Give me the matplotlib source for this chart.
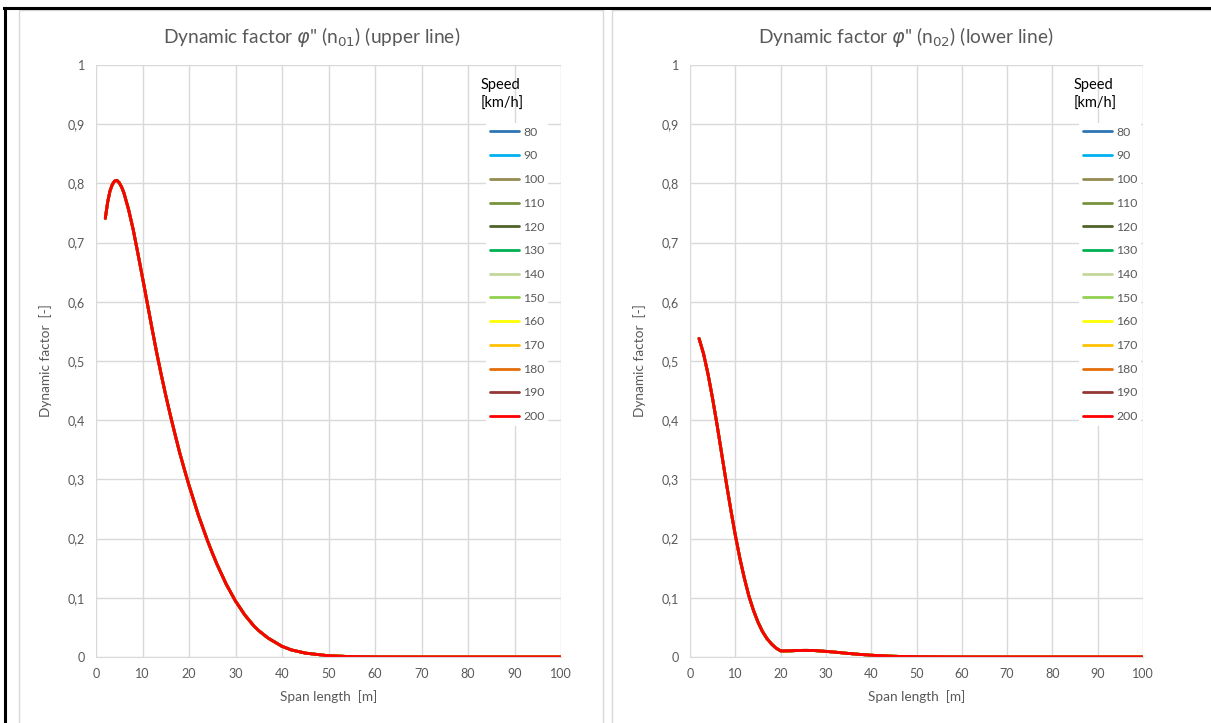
import matplotlib
matplotlib.use("Agg")
import matplotlib.pyplot as plt
from matplotlib.lines import Line2D
from matplotlib.patches import Rectangle
from matplotlib.ticker import FuncFormatter

plt.rcParams['font.family'] = ['Lato', 'DejaVu Sans']
plt.rcParams['mathtext.fontset'] = 'dejavusans'

# ---- data ----
speeds = [80, 90, 100, 110, 120, 130, 140, 150, 160, 170, 180, 190, 200]
speed_colors = ['#2E75B6', '#00B0F0', '#948A54', '#77933C', '#4F6228', '#00B050',
                '#C4D79B', '#92D050', '#FFFF00', '#FFC000', '#E46C0A', '#953735', '#FF0000']

span_upper = [2, 2.5, 3, 3.5, 4, 4.5, 5, 5.5, 6, 7, 8, 9, 10, 11, 12, 13, 14, 15, 16, 17,
              18, 19, 20, 22, 24, 25, 26, 28, 30, 32, 34, 35, 37, 40, 42, 45, 50, 55, 60,
              70, 80, 90, 100]
phi_upper = [0.741, 0.768, 0.787, 0.798, 0.804, 0.805, 0.801, 0.794, 0.784, 0.756, 0.722,
             0.682, 0.641, 0.599, 0.557, 0.516, 0.478, 0.442, 0.408, 0.376, 0.345, 0.317,
             0.290, 0.240, 0.196, 0.176, 0.157, 0.123, 0.0945, 0.071, 0.052, 0.0445,
             0.032, 0.018, 0.012, 0.0066, 0.0021, 0.0006, 0.00014, 0.0, 0.0, 0.0, 0.0]

span_lower = [2, 3, 4, 5, 6, 7, 8, 9, 10, 11, 12, 13, 14, 15, 16, 17, 18, 19, 20, 21, 22,
              23, 24, 25, 26, 27, 28, 30, 32, 34, 35, 37, 40, 42, 45, 50, 60, 70, 80, 90, 100]
phi_lower = [0.538, 0.512, 0.477, 0.436, 0.391, 0.343, 0.295, 0.249, 0.206, 0.167, 0.133,
             0.103, 0.079, 0.059, 0.043, 0.031, 0.022, 0.015, 0.0103, 0.0103, 0.0104,
             0.0107, 0.0110, 0.0112, 0.0112, 0.0110, 0.0106, 0.0095, 0.0082, 0.0067,
             0.0060, 0.0047, 0.0030, 0.0022, 0.0012, 0.0004, 0.00004, 0.0, 0.0, 0.0, 0.0]

x_ticks = [0, 10, 20, 30, 40, 50, 60, 70, 80, 90, 100]
y_ticks = [0, 0.1, 0.2, 0.3, 0.4, 0.5, 0.6, 0.7, 0.8, 0.9, 1.0]
titles = ['Dynamic factor $\\varphi$" (n$_{01}$) (upper line)',
          'Dynamic factor $\\varphi$" (n$_{02}$) (lower line)']

W, H = 1211, 723
fig = plt.figure(figsize=(W / 100, H / 100), dpi=100)
fig.patch.set_facecolor('white')

def fx(px):
    return px / W

def fy(py):
    return 1 - py / H

# chart area borders (light grey)
fig.add_artist(Rectangle((fx(19), fy(730)), fx(603) - fx(19), fy(10) - fy(730),
                         transform=fig.transFigure, fill=False, edgecolor='#D9D9D9', lw=1))
fig.add_artist(Rectangle((fx(612), fy(730)), fx(1220) - fx(612), fy(10) - fy(730),
                         transform=fig.transFigure, fill=False, edgecolor='#D9D9D9', lw=1))
# black outer frame
fig.add_artist(Line2D([fx(4), fx(1211)], [fy(8), fy(8)], transform=fig.transFigure,
                      color='black', lw=2.2))
fig.add_artist(Line2D([fx(5), fx(5)], [fy(8), fy(723)], transform=fig.transFigure,
                      color='black', lw=2.2))

grey = '#595959'
fmt = FuncFormatter(lambda v, p: ('%g' % round(v, 1)).replace('.', ','))

panels = [
    (96, 561, span_upper, phi_upper, titles[0], 486, 312),
    (690, 1143, span_lower, phi_lower, titles[1], 1079, 906),
]

for x0, x1, xs, ys, title, lx, tx in panels:
    ax = fig.add_axes([fx(x0), fy(657), fx(x1) - fx(x0), fy(65) - fy(657)])
    ax.set_xlim(0, 100)
    ax.set_ylim(0, 1)
    ax.set_xticks(x_ticks)
    ax.set_yticks(y_ticks)
    ax.yaxis.set_major_formatter(fmt)
    ax.grid(True, color='#D9D9D9', lw=1)
    ax.set_axisbelow(True)
    for s in ['top', 'right', 'left']:
        ax.spines[s].set_visible(False)
    ax.spines['bottom'].set_color('#D9D9D9')
    ax.tick_params(length=0, colors=grey, labelsize=9, pad=8)
    handles = []
    for sp, col in zip(speeds, speed_colors):
        h, = ax.plot(xs, ys, color=col, lw=2.0, label=str(sp), solid_capstyle='round')
        handles.append(h)
    ax.set_xlabel('Span length  [m]', color=grey, fontsize=9.8, labelpad=7)
    ax.set_ylabel('Dynamic factor  [-]', color=grey, fontsize=9.8, labelpad=11)
    fig.text(fx(tx), fy(37), title, color=grey, fontsize=13.8, ha='center', va='center')
    leg = ax.legend(handles=handles, loc='upper left',
                    bbox_to_anchor=(fx(lx), fy(123)), bbox_transform=fig.transFigure,
                    frameon=True, fancybox=False, borderaxespad=0, borderpad=0.3,
                    fontsize=8.8, handlelength=2.4, handletextpad=0.35, labelspacing=1.04)
    leg.get_frame().set_facecolor('white')
    leg.get_frame().set_edgecolor('none')
    leg.get_frame().set_alpha(1)
    for t in leg.get_texts():
        t.set_color(grey)
    fig.text(fx(lx - 5), fy(78), 'Speed\n[km/h]', ha='left', va='top', fontsize=10.5,
             color='black', linespacing=1.45)

fig.savefig('out.png', dpi=100)
